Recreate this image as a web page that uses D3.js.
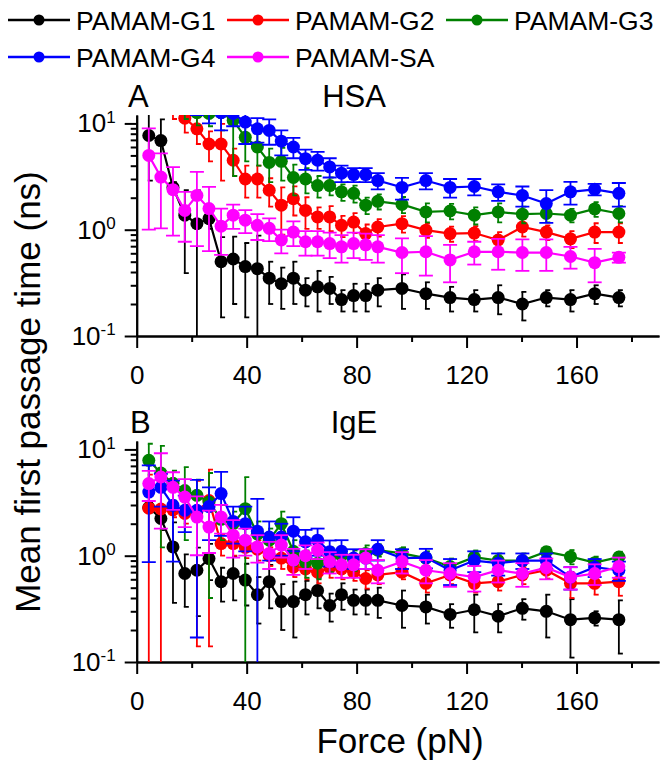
<!DOCTYPE html>
<html>
<head>
<meta charset="utf-8">
<script src="https://cdn.jsdelivr.net/npm/d3@7"></script>
<style>
	body { margin: 0; background: #fff; }
	svg { display: block; font-family: Arial, "Liberation Sans", sans-serif; }
</style>
</head>
<body>
<svg id="chart" width="660" height="762"></svg>
<script>
// pulling force applied in the runs (pN)
const forces = [4.4, 8.8, 13.2, 17.5, 21.9, 26.3, 30.7, 35.1, 39.5, 43.9, 48.2, 52.6, 57.0, 61.4, 65.8, 70.2, 74.5, 78.9, 83.3, 87.7, 96.5, 105.2, 114.0, 122.8, 131.5, 140.3, 149.0, 157.8, 166.6, 175.4]

const seriesNames = ["PAMAM-G1", "PAMAM-G2", "PAMAM-G3", "PAMAM-G4", "PAMAM-SA"]
const seriesColors = ["#000000", "#ff0000", "#008000", "#0000ff", "#ff00ff"]

// HSA, mean first passage time (ns) and its error
const hsaG1 = [7.7, 6.9, 2.5, 1.37, 1.14, 1.27, 0.50, 0.53, 0.45, 0.43, 0.35, 0.31, 0.35, 0.27, 0.29, 0.28, 0.22, 0.24, 0.24, 0.27, 0.28, 0.25, 0.23, 0.22, 0.23, 0.20, 0.23, 0.22, 0.25, 0.23]
const hsaG1Err = [4.8, 4.0, 0.3, 0.98, 1.2, 0.25, 0.35, 0.33, 0.3, 0.45, 0.15, 0.13, 0.15, 0.08, 0.12, 0.08, 0.05, 0.07, 0.07, 0.08, 0.1, 0.07, 0.06, 0.05, 0.07, 0.06, 0.04, 0.05, 0.05, 0.04]
const hsaG2 = [18, 16, 14, 11.2, 8.9, 6.4, 6.4, 4.5, 3.0, 3.0, 2.35, 1.7, 1.96, 1.52, 1.32, 1.32, 1.1, 1.18, 0.92, 1.06, 1.14, 0.99, 0.92, 0.93, 0.80, 1.06, 0.95, 0.82, 0.95, 0.95]
const hsaG2Err = [3, 3, 3, 3, 2.5, 2.0, 3.5, 1.3, 1.0, 1.0, 0.7, 0.8, 0.6, 0.5, 0.3, 0.35, 0.25, 0.25, 0.2, 0.2, 0.2, 0.15, 0.15, 0.15, 0.15, 0.2, 0.15, 0.15, 0.2, 0.2]
const hsaG3 = [20, 18, 16, 14, 12.6, 12.4, 12.6, 10.7, 7.4, 6.0, 4.3, 4.4, 3.1, 3.0, 2.6, 2.6, 2.27, 2.2, 1.7, 1.85, 1.73, 1.47, 1.5, 1.37, 1.47, 1.4, 1.42, 1.37, 1.57, 1.42]
const hsaG3Err = [3, 3, 3, 3, 3, 3, 4, 7.5, 3.0, 2.0, 1.5, 1.5, 1.0, 0.8, 0.6, 0.5, 0.4, 0.4, 0.3, 0.3, 0.3, 0.3, 0.25, 0.25, 0.3, 0.25, 0.25, 0.2, 0.25, 0.25]
const hsaG4 = [25, 22, 20, 18, 16, 14, 12.6, 12.4, 10.3, 8.9, 8.6, 6.8, 6.0, 4.66, 4.5, 3.9, 3.4, 3.3, 3.3, 2.9, 2.5, 2.9, 2.5, 2.55, 2.27, 2.1, 1.76, 2.27, 2.4, 2.2]
const hsaG4Err = [4, 4, 4, 4, 4, 4, 4, 3, 3.9, 2.3, 2.3, 1.8, 1.3, 1.0, 0.9, 0.8, 0.6, 0.5, 0.5, 0.5, 0.58, 0.5, 0.5, 0.45, 0.4, 0.45, 0.6, 0.55, 0.3, 0.55]
const hsaSA = [5.0, 3.13, 2.38, 1.52, 2.1, 1.58, 1.08, 1.37, 1.23, 1.1, 1.03, 0.80, 0.95, 0.77, 0.77, 0.74, 0.69, 0.74, 0.72, 0.69, 0.61, 0.62, 0.52, 0.62, 0.62, 0.61, 0.61, 0.56, 0.49, 0.55]
const hsaSAErr = [4.0, 2.1, 1.5, 0.75, 1.4, 0.95, 0.5, 0.35, 0.3, 0.3, 0.25, 0.2, 0.25, 0.2, 0.2, 0.2, 0.2, 0.2, 0.2, 0.2, 0.22, 0.25, 0.2, 0.15, 0.2, 0.2, 0.2, 0.13, 0.17, 0.06]

// IgE
const igeG1 = [2.84, 2.24, 1.21, 0.68, 0.73, 0.94, 0.57, 0.68, 0.59, 0.43, 0.57, 0.37, 0.37, 0.43, 0.47, 0.34, 0.43, 0.38, 0.38, 0.38, 0.34, 0.33, 0.28, 0.31, 0.27, 0.32, 0.30, 0.25, 0.26, 0.25]
const igeG1Err = [0.3, 0.5, 0.85, 0.35, 0.46, 0.35, 0.2, 0.3, 0.25, 0.2, 0.25, 0.17, 0.2, 0.15, 0.15, 0.1, 0.12, 0.1, 0.1, 0.12, 0.13, 0.1, 0.07, 0.12, 0.08, 0.07, 0.13, 0.14, 0.04, 0.13]
const igeG2 = [2.8, 2.75, 2.7, 2.5, 2.6, 3.3, 1.3, 1.3, 1.2, 1.15, 1.0, 0.95, 0.78, 0.75, 0.70, 0.77, 0.75, 0.7, 0.61, 0.66, 0.70, 0.55, 0.66, 0.55, 0.57, 0.66, 0.73, 0.55, 0.55, 0.57]
const igeG2Err = [3.0, 3.0, 0.4, 0.5, 2.46, 3.16, 0.3, 0.3, 0.25, 0.25, 0.2, 0.2, 0.15, 0.15, 0.15, 0.15, 0.15, 0.12, 0.12, 0.12, 0.1, 0.1, 0.12, 0.1, 0.1, 0.12, 0.12, 0.15, 0.12, 0.15]
const igeG3 = [7.9, 6.0, 4.8, 4.1, 3.7, 3.2, 2.2, 2.0, 2.77, 1.6, 1.4, 2.0, 1.1, 0.87, 0.85, 0.95, 1.0, 0.92, 1.05, 1.13, 1.05, 0.95, 0.79, 0.97, 0.90, 0.90, 1.09, 0.98, 0.86, 0.97]
const igeG3Err = [3.4, 4.8, 1.5, 2.7, 1.5, 2.8, 0.8, 0.6, 2.72, 0.5, 0.4, 0.6, 0.3, 0.25, 0.25, 0.25, 0.2, 0.2, 0.2, 0.15, 0.15, 0.15, 0.15, 0.15, 0.15, 0.15, 0.12, 0.15, 0.12, 0.12]
const igeG4 = [3.97, 4.4, 2.98, 2.67, 2.67, 2.9, 3.84, 2.1, 2.0, 1.7, 1.5, 1.5, 1.7, 1.35, 1.4, 1.09, 1.1, 0.95, 0.95, 1.15, 0.95, 0.96, 0.73, 0.9, 0.85, 0.9, 0.9, 0.63, 0.78, 0.73]
const igeG4Err = [3.1, 1.5, 2.1, 1.0, 2.5, 1.5, 2.3, 0.8, 0.9, 1.72, 0.6, 0.5, 0.6, 0.4, 0.4, 0.3, 0.3, 0.2, 0.2, 0.25, 0.2, 0.2, 0.2, 0.2, 0.2, 0.15, 0.15, 0.15, 0.15, 0.15]
const igeSA = [4.77, 5.5, 4.4, 3.56, 2.31, 1.86, 2.31, 1.56, 1.4, 1.21, 1.05, 1.26, 0.91, 1.0, 1.13, 0.88, 0.82, 0.82, 0.95, 0.73, 0.88, 0.73, 0.68, 0.63, 0.73, 0.68, 0.77, 0.63, 0.68, 0.79]
const igeSAErr = [1.5, 3.7, 1.7, 1.7, 1.3, 0.8, 0.7, 0.6, 0.4, 0.35, 0.3, 0.3, 0.25, 0.25, 0.2, 0.2, 0.2, 0.2, 0.2, 0.18, 0.2, 0.18, 0.17, 0.17, 0.17, 0.17, 0.17, 0.15, 0.15, 0.17]

const xMajorTicks = [0, 40, 80, 120, 160]
const xMinorTicks = [20, 60, 100, 140, 180]
const yMajorTicks = [0.1, 1, 10]

const svg = d3.select("#chart")
const x = d3.scaleLinear().domain([0, 190]).range([136.7, 659])
const yDomain = [0.1, 12]

// only the G4 and SA series got the wide caps, the rest have a stub
const wideCap = [false, false, false, true, true]

const panels = [
	{id: "A", title: "HSA", top: 115, bottom: 336, values: [hsaG1, hsaG2, hsaG3, hsaG4, hsaSA], errors: [hsaG1Err, hsaG2Err, hsaG3Err, hsaG4Err, hsaSAErr]},
	{id: "B", title: "IgE", top: 441, bottom: 662, values: [igeG1, igeG2, igeG3, igeG4, igeSA], errors: [igeG1Err, igeG2Err, igeG3Err, igeG4Err, igeSAErr]}
]

function styleAxis(g) {
	g.attr("font-family", null).attr("font-size", null)
	g.selectAll(".domain").attr("stroke", "#000").attr("stroke-width", 2)
	g.selectAll(".tick line").attr("stroke", "#000").attr("stroke-width", 2)
	g.selectAll(".tick text").attr("fill", "#000").style("font-size", "26px")
}

function drawPanel(panel, idx) {
	const y = d3.scaleLog().domain(yDomain).range([panel.bottom, panel.top])
	const holder = svg.append("g").classed("panel", true)

	holder.append("clipPath")
		.attr("id", "clip" + panel.id)
		.append("rect")
			.attr("x", x.range()[0] - 10)
			.attr("y", panel.top)
			.attr("width", x.range()[1] - x.range()[0] + 10)
			.attr("height", panel.bottom - panel.top)

	//axes first, data goes over them
	holder.append("g")
		.attr("transform", `translate(0,${panel.bottom})`)
		.call(d3.axisBottom(x).tickValues(xMinorTicks).tickSize(6).tickSizeOuter(0).tickFormat(""))
		.call(styleAxis)
	holder.append("g")
		.attr("transform", `translate(0,${panel.bottom})`)
		.call(d3.axisBottom(x).tickValues(xMajorTicks).tickSize(12).tickSizeOuter(0).tickPadding(18))
		.call(styleAxis)

	const yMinor = y.ticks().filter(t => yMajorTicks.indexOf(t) < 0 && t < yDomain[1])
	holder.append("g")
		.attr("transform", `translate(${x(0)},0)`)
		.call(d3.axisLeft(y).tickValues(yMinor).tickSize(6).tickSizeOuter(0).tickFormat(""))
		.call(styleAxis)
	const yAxis = holder.append("g")
		.attr("transform", `translate(${x(0)},0)`)
		.call(d3.axisLeft(y).tickValues(yMajorTicks).tickSize(12).tickSizeOuter(0).tickPadding(9))
		.call(styleAxis)

	yAxis.selectAll(".tick text")
		.text(null)
		.each(function(d) {
			let t = d3.select(this)
			t.append("tspan").text("10")
			t.append("tspan").attr("dy", "-0.55em").style("font-size", "17px").text(Math.round(Math.log10(d)))
		})

	holder.append("text")
		.attr("x", idx === 0 ? 128 : 130)
		.attr("y", panel.top - 8)
		.style("font-size", "31px")
		.text(panel.id)
	holder.append("text")
		.attr("x", 354)
		.attr("y", panel.top - 8)
		.attr("text-anchor", "middle")
		.style("font-size", "31px")
		.text(panel.title)

	const plot = holder.append("g").attr("clip-path", `url(#clip${panel.id})`)

	panel.values.forEach((vals, si) => {
		const color = seriesColors[si]
		const pts = forces.map((f, i) => ({f: f, v: vals[i], e: panel.errors[si][i]}))
		const sg = plot.append("g").classed("series", true)
		const lo = d => y(Math.max(d.v - d.e, 0.05))
		const hi = d => y(d.v + d.e)
		const capL = wideCap[si] ? -7 : -1
		const capR = wideCap[si] ? 7 : 4

		sg.selectAll("line.bar")
			.data(pts)
			.join("line")
				.classed("bar", true)
				.attr("x1", d => x(d.f)).attr("x2", d => x(d.f))
				.attr("y1", lo).attr("y2", hi)
				.attr("stroke", color).attr("stroke-width", 1.8)

		sg.selectAll("line.capHi")
			.data(pts)
			.join("line")
				.classed("capHi", true)
				.attr("x1", d => x(d.f) + capL).attr("x2", d => x(d.f) + capR)
				.attr("y1", hi).attr("y2", hi)
				.attr("stroke", color).attr("stroke-width", 1.8)

		sg.selectAll("line.capLo")
			.data(pts.filter(d => d.v - d.e > yDomain[0]))
			.join("line")
				.classed("capLo", true)
				.attr("x1", d => x(d.f) + capL).attr("x2", d => x(d.f) + capR)
				.attr("y1", lo).attr("y2", lo)
				.attr("stroke", color).attr("stroke-width", 1.8)

		sg.append("path")
			.datum(pts)
			.attr("fill", "none")
			.attr("stroke", color)
			.attr("stroke-width", 2.2)
			.attr("d", d3.line().x(d => x(d.f)).y(d => y(d.v)))

		sg.selectAll("circle")
			.data(pts)
			.join("circle")
				.attr("cx", d => x(d.f))
				.attr("cy", d => y(d.v))
				.attr("r", 6.5)
				.attr("fill", color)
	})
}

panels.forEach(drawPanel)

// legend, 3 items on first row and 2 on the second
const legend = svg.append("g")
	.selectAll("g")
	.data(seriesNames)
	.join("g")
		.attr("transform", (d, i) => `translate(${8 + (i % 3) * 219},${i < 3 ? 20 : 57})`)

legend.append("line")
	.attr("x1", 0).attr("x2", 62)
	.attr("stroke", (d, i) => seriesColors[i])
	.attr("stroke-width", 2.5)
legend.append("circle")
	.attr("cx", 31)
	.attr("r", 5.5)
	.attr("fill", (d, i) => seriesColors[i])
legend.append("text")
	.attr("x", 68)
	.attr("y", 9.5)
	.style("font-size", "26.5px")
	.text(d => d)

svg.append("text")
	.attr("x", 400)
	.attr("y", 753)
	.attr("text-anchor", "middle")
	.style("font-size", "35px")
	.text("Force (pN)")

svg.append("text")
	.attr("transform", "translate(40,392) rotate(-90)")
	.attr("text-anchor", "middle")
	.style("font-size", "35px")
	.text("Mean first passage time (ns)")
</script>
</body>
</html>
